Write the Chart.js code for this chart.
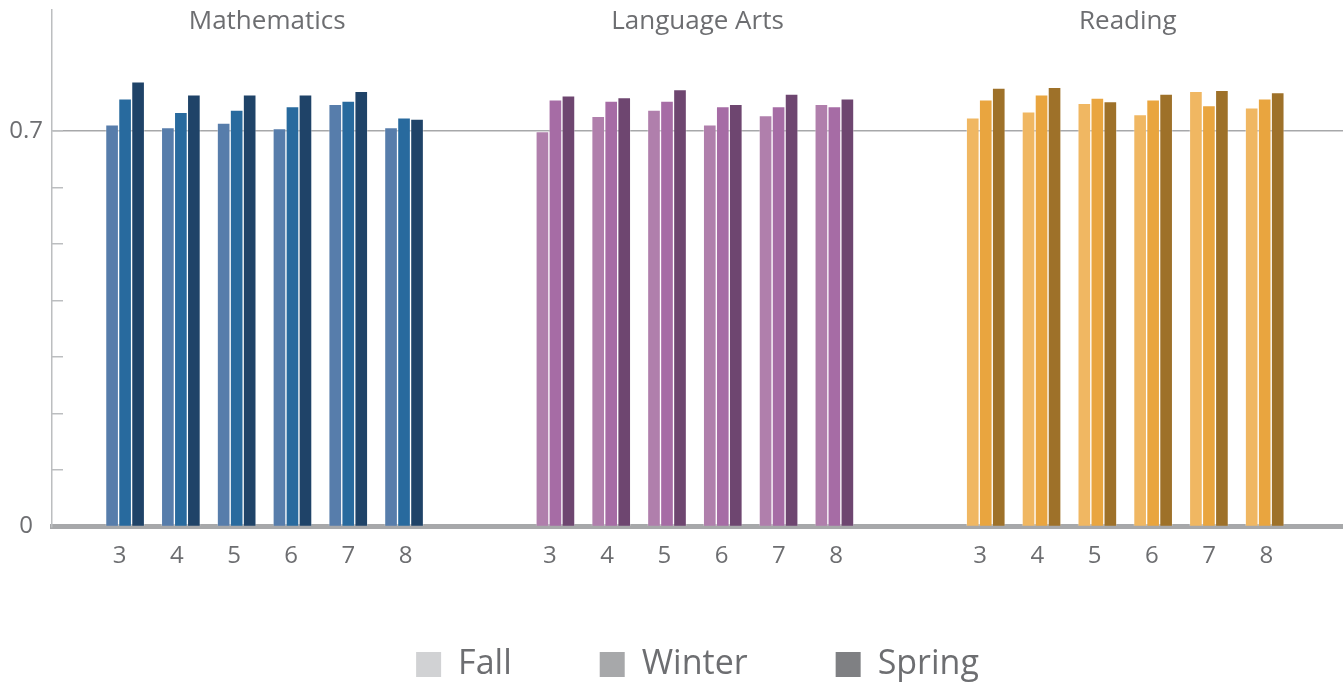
<!DOCTYPE html>
<html>
<head>
<meta charset="utf-8">
<title>Fall / Winter / Spring by grade</title>
<script src="https://cdn.jsdelivr.net/npm/chart.js@4/dist/chart.umd.min.js"></script>
<style>
  html, body { margin: 0; padding: 0; background: #fff; }
  #wrap { position: relative; width: 1343px; height: 688px; }
</style>
</head>
<body>
<div id="wrap"><canvas id="chart"></canvas></div>
<script>
// Panels and categories.
var subjects = ['Mathematics', 'Language Arts', 'Reading'];
var grades = ['3', '4', '5', '6', '7', '8'];
var seasons = ['Fall', 'Winter', 'Spring'];

// Values, one array per subject and season (grades 3..8).
var mathFall = [0.711, 0.706, 0.714, 0.704, 0.747, 0.706];
var mathWinter = [0.757, 0.733, 0.737, 0.743, 0.753, 0.723];
var mathSpring = [0.787, 0.764, 0.764, 0.764, 0.770, 0.721];

var laFall = [0.699, 0.726, 0.737, 0.711, 0.727, 0.747];
var laWinter = [0.755, 0.753, 0.753, 0.743, 0.743, 0.743];
var laSpring = [0.762, 0.759, 0.773, 0.747, 0.765, 0.757];

var readFall = [0.723, 0.734, 0.749, 0.729, 0.770, 0.741];
var readWinter = [0.755, 0.764, 0.758, 0.755, 0.745, 0.757];
var readSpring = [0.776, 0.777, 0.752, 0.765, 0.772, 0.768];

// Y axis: only these values get a label.
var yTickLabels = [0, 0.7];

// Colours per panel (fall, winter, spring) and the grey legend swatches.
var panelColors = [
  ['#577dab', '#286a9e', '#1f4368'],
  ['#b07fac', '#a66ca5', '#6e4670'],
  ['#f0b762', '#e9a53f', '#9e7129'],
];
var legendGreys = ['#d1d2d4', '#a7a8aa', '#7f8083'];
var textGrey = '#6d6e71';

var seriesBySeason = [
  [mathFall, laFall, readFall],
  [mathWinter, laWinter, readWinter],
  [mathSpring, laSpring, readSpring],
];

// Layout of the linear x axis, in "grade slots".
var xMax = 23.14;
var panelW = xMax / 3;
var firstGroup = 1.31;

function groupX(p, i) {
  return p * panelW + firstGroup + i;
}

// Build one dataset per season, spanning all three panels.
var datasets = seasons.map(function (season, s) {
  var points = [];
  var colors = [];
  seriesBySeason[s].forEach(function (values, p) {
    values.forEach(function (v, i) {
      points.push({ x: groupX(p, i), y: v });
      colors.push(panelColors[p][s]);
    });
  });
  return {
    label: season,
    data: points,
    backgroundColor: colors,
    borderColor: 'rgba(255,255,255,0.3)',
    borderWidth: 1,
    barThickness: 13,
  };
});

// Positions of the grade labels under each panel.
var gradeTicks = [];
subjects.forEach(function (subject, p) {
  grades.forEach(function (g, i) {
    gradeTicks.push({ value: p * panelW + firstGroup - 0.1 + i * 1.026, label: g });
  });
});

// Subject names written above each panel.
var panelTitles = {
  id: 'panelTitles',
  afterDraw: function (chart) {
    var ctx = chart.ctx;
    var xScale = chart.scales.x;
    ctx.save();
    ctx.font = '26px "Open Sans"';
    ctx.fillStyle = textGrey;
    ctx.textAlign = 'center';
    ctx.textBaseline = 'alphabetic';
    subjects.forEach(function (name, p) {
      ctx.fillText(name, xScale.getPixelForValue((p + 0.5) * panelW), chart.chartArea.top + 19);
    });
    ctx.restore();
  },
};

Chart.defaults.font.family = '"Open Sans", "DejaVu Sans", sans-serif';
Chart.defaults.color = textGrey;

new Chart(document.getElementById('chart'), {
  type: 'bar',
  data: { datasets: datasets },
  plugins: [panelTitles],
  options: {
    responsive: true,
    maintainAspectRatio: false,
    animation: false,
    layout: { padding: { top: 10, right: 0, bottom: 0, left: 0 } },
    plugins: {
      tooltip: { enabled: false },
      legend: {
        position: 'bottom',
        fullSize: false,
        // The label padding also pushes the row down, so cap the box height.
        maxHeight: 128.5,
        labels: {
          boxWidth: 25,
          boxHeight: 25,
          padding: 88,
          font: { size: 34 },
          color: textGrey,
          generateLabels: function () {
            return seasons.map(function (s, i) {
              return {
                text: s,
                fillStyle: legendGreys[i],
                strokeStyle: legendGreys[i],
                fontColor: textGrey,
                lineWidth: 0,
                hidden: false,
                datasetIndex: i,
              };
            });
          },
        },
      },
    },
    scales: {
      x: {
        type: 'linear',
        min: 0,
        max: xMax,
        offset: false,
        z: 1,
        grid: { display: false, drawTicks: false, offset: false },
        border: { display: true, color: '#a7a8aa', width: 5 },
        ticks: {
          // The axis box is kept short for the legend; mirrored labels are not
          // clipped to it, and the negative padding puts them back below the line.
          mirror: true,
          padding: -44,
          font: { size: 24 },
          color: textGrey,
          autoSkip: false,
          maxRotation: 0,
          callback: function (value, index) {
            return gradeTicks[index] ? gradeTicks[index].label : '';
          },
        },
        afterBuildTicks: function (scale) {
          scale.ticks = gradeTicks.map(function (t) {
            return { value: t.value };
          });
        },
        afterFit: function (scale) {
          scale.height = 33;
          scale.paddingLeft = 0;
          scale.paddingRight = 0;
        },
      },
      y: {
        min: 0,
        max: 0.914,
        grid: {
          color: function (ctx) {
            return ctx.tick && Math.abs(ctx.tick.value - 0.7) < 1e-6 ? '#a7a8aa' : 'rgba(0,0,0,0)';
          },
          lineWidth: 1.5,
          tickColor: '#bcbec0',
          tickLength: -11,
        },
        border: { display: true, color: '#bcbec0', width: 1.5 },
        ticks: {
          stepSize: 0.1,
          crossAlign: 'center',
          padding: 20,
          font: { size: 24 },
          color: textGrey,
          autoSkip: false,
          callback: function (value) {
            var hit = yTickLabels.filter(function (t) {
              return Math.abs(t - value) < 1e-6;
            });
            return hit.length ? String(hit[0]) : '';
          },
        },
        afterBuildTicks: function (scale) {
          // No tick marks above 0.7.
          scale.ticks = scale.ticks.filter(function (t) {
            return t.value <= 0.7 + 1e-6;
          });
        },
        afterFit: function (scale) {
          scale.width = 52;
          scale.paddingTop = 0;
          scale.paddingBottom = 0;
        },
      },
    },
  },
});
</script>
</body>
</html>
